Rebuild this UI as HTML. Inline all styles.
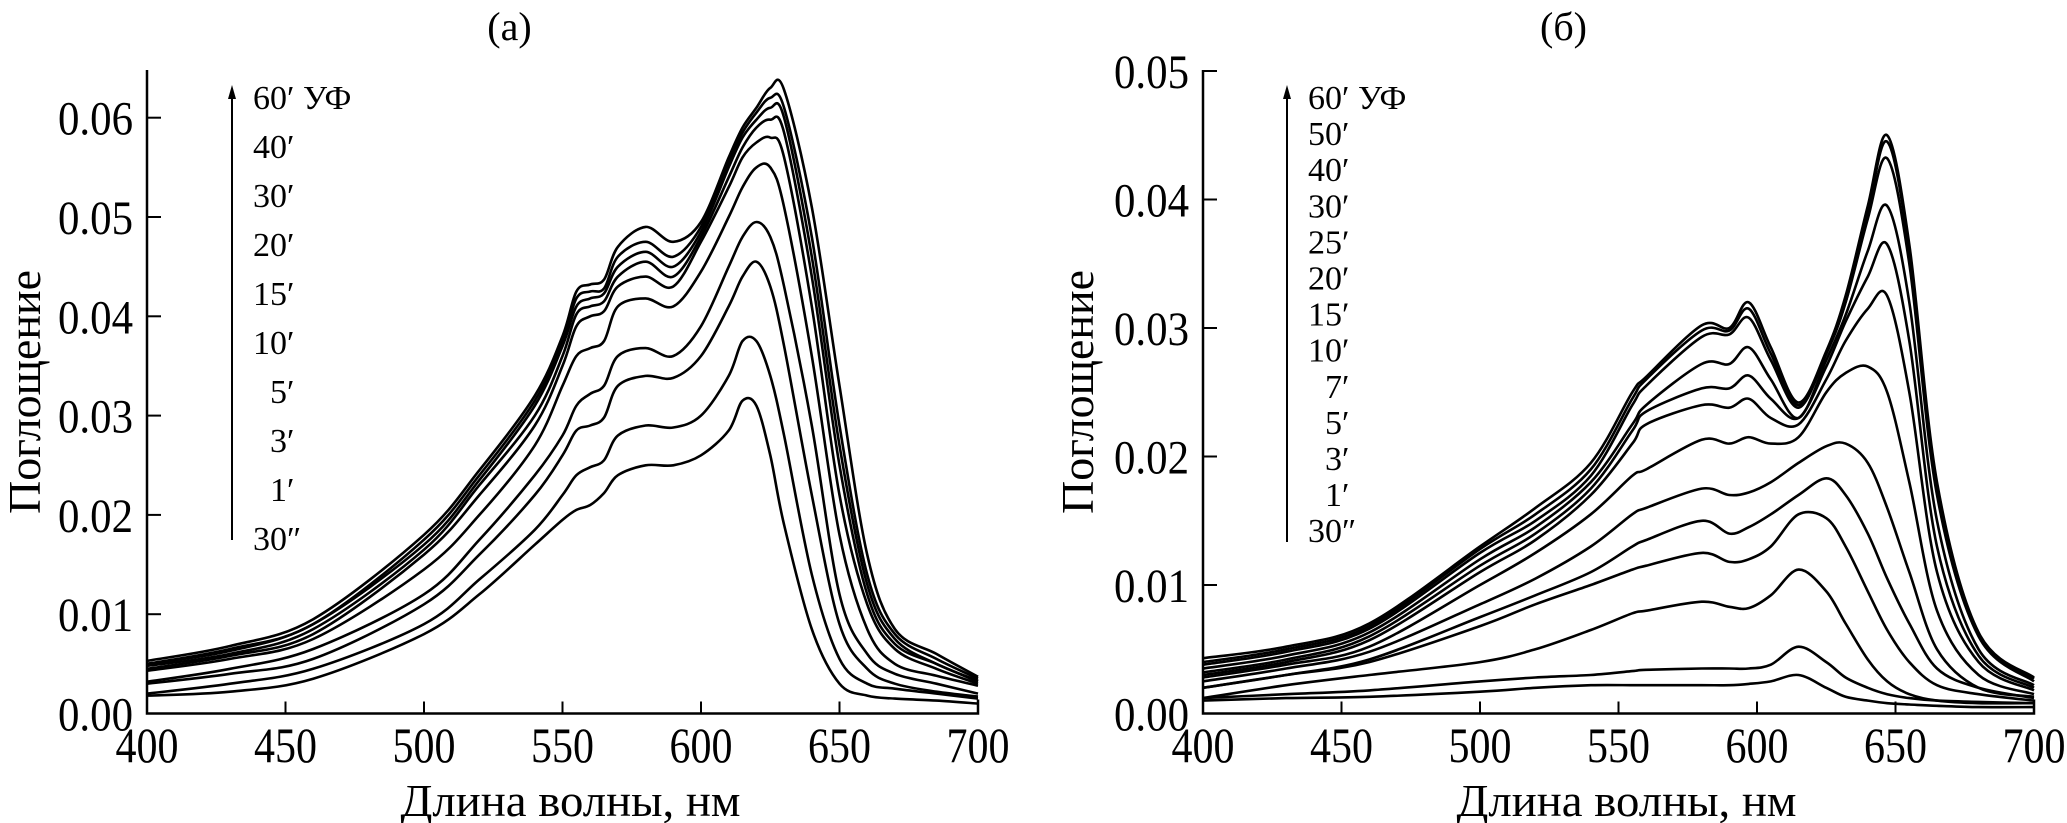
<!DOCTYPE html>
<html><head><meta charset="utf-8"><style>
html,body{margin:0;padding:0;background:#fff;}
svg{display:block;}
text{font-family:"Liberation Serif","DejaVu Serif",serif;fill:#000;}
</style></head><body>
<svg id="chart" width="2067" height="823" viewBox="0 0 2067 823" xmlns="http://www.w3.org/2000/svg"></svg>
<script>
// ---------- Panel (a) data ----------
const wlA = [400,430,460,500,520,540,550,555,560,565,570,580,590,600,610,615,620,625,630,640,650,660,670,685,700];
const labelsA = ["30″","1′","3′","5′","10′","15′","20′","30′","40′","60′ УФ"];
const a30s = [0.0018,0.0022,0.0035,0.008,0.012,0.017,0.0195,0.0205,0.021,0.0222,0.024,0.025,0.025,0.026,0.0285,0.0315,0.031,0.026,0.019,0.0085,0.003,0.0018,0.0015,0.0013,0.001];
const a1 = [0.002,0.003,0.0045,0.009,0.0135,0.0185,0.022,0.024,0.0248,0.0255,0.028,0.029,0.0288,0.030,0.034,0.0375,0.0375,0.034,0.028,0.014,0.0055,0.003,0.0025,0.002,0.0015];
const a3 = [0.003,0.004,0.0055,0.011,0.016,0.022,0.026,0.0285,0.029,0.0298,0.033,0.034,0.0338,0.036,0.041,0.044,0.0455,0.043,0.037,0.022,0.009,0.0045,0.003,0.0022,0.0017];
const a5 = [0.0032,0.0045,0.0065,0.012,0.0175,0.024,0.028,0.031,0.0322,0.033,0.036,0.0368,0.036,0.039,0.045,0.048,0.0495,0.048,0.043,0.029,0.012,0.006,0.004,0.003,0.002];
const a10 = [0.0043,0.0055,0.0075,0.0145,0.020,0.027,0.033,0.036,0.0368,0.0375,0.041,0.0418,0.041,0.0445,0.050,0.053,0.055,0.055,0.051,0.036,0.018,0.0085,0.005,0.0038,0.0028];
const a15 = [0.0045,0.0058,0.008,0.016,0.022,0.029,0.035,0.039,0.040,0.0405,0.043,0.044,0.043,0.0475,0.053,0.056,0.0575,0.058,0.056,0.041,0.022,0.011,0.0065,0.0045,0.003];
const a20 = [0.0048,0.006,0.0085,0.0165,0.023,0.030,0.036,0.0402,0.041,0.0415,0.044,0.0455,0.044,0.048,0.054,0.057,0.059,0.0598,0.0585,0.044,0.025,0.012,0.007,0.005,0.0032];
const a30 = [0.005,0.0063,0.009,0.017,0.0235,0.031,0.037,0.041,0.0418,0.0423,0.045,0.0465,0.045,0.0485,0.055,0.058,0.0598,0.061,0.060,0.046,0.027,0.013,0.0075,0.005,0.0033];
const a40 = [0.005,0.0065,0.009,0.0175,0.024,0.0315,0.0375,0.0418,0.0425,0.0428,0.046,0.0475,0.046,0.049,0.0555,0.0585,0.0605,0.062,0.061,0.048,0.029,0.014,0.008,0.0055,0.0035];
const a60 = [0.0053,0.0068,0.0095,0.018,0.0245,0.032,0.038,0.0425,0.0432,0.0437,0.047,0.049,0.0475,0.0495,0.056,0.059,0.061,0.063,0.0628,0.051,0.033,0.016,0.0085,0.006,0.0037];
const seriesA = [a30s,a1,a3,a5,a10,a15,a20,a30,a40,a60];
const yTicksA = [0.00,0.01,0.02,0.03,0.04,0.05,0.06];

// ---------- Panel (б) data ----------
const wlB = [400,430,460,500,520,540,555,560,580,590,597,605,615,625,632,640,647,655,665,680,700];
const labelsB = ["30″","1′","3′","5′","7′","10′","15′","20′","25′","30′","40′","50′","60′ УФ"];
const b30s = [0.001,0.0012,0.0013,0.0017,0.002,0.0022,0.0022,0.0022,0.0022,0.0022,0.0023,0.0025,0.003,0.002,0.0013,0.001,0.0008,0.0007,0.0006,0.0005,0.0005];
const b1 = [0.0012,0.0015,0.0018,0.0025,0.0028,0.003,0.0033,0.0034,0.0035,0.0035,0.0035,0.0038,0.0052,0.004,0.0028,0.002,0.0015,0.0012,0.001,0.0009,0.0008];
const b3 = [0.0012,0.0022,0.003,0.004,0.005,0.0065,0.0078,0.008,0.0087,0.0083,0.0082,0.0092,0.0112,0.0095,0.007,0.0042,0.0025,0.0015,0.001,0.0008,0.0008];
const b5 = [0.002,0.003,0.004,0.0068,0.0085,0.010,0.0112,0.0115,0.0125,0.0118,0.012,0.013,0.0155,0.0152,0.013,0.0095,0.0065,0.004,0.0022,0.0015,0.001];
const b7 = [0.002,0.003,0.0042,0.0075,0.0092,0.011,0.013,0.0135,0.015,0.014,0.0145,0.0155,0.017,0.0183,0.017,0.014,0.0105,0.007,0.0035,0.002,0.0012];
const b10 = [0.0025,0.0035,0.0048,0.0085,0.0105,0.013,0.0155,0.016,0.0175,0.017,0.0172,0.018,0.0195,0.0208,0.021,0.0195,0.016,0.011,0.005,0.002,0.0013];
const b15 = [0.0028,0.0038,0.0052,0.010,0.0125,0.0155,0.0185,0.019,0.0213,0.021,0.0215,0.021,0.0215,0.025,0.0265,0.027,0.025,0.018,0.008,0.003,0.0015];
const b20 = [0.003,0.004,0.0057,0.011,0.0135,0.017,0.021,0.0225,0.024,0.0238,0.0245,0.023,0.0225,0.026,0.029,0.0315,0.0325,0.025,0.011,0.004,0.0018];
const b25 = [0.0032,0.0042,0.006,0.0115,0.014,0.0175,0.022,0.0235,0.0253,0.0253,0.0263,0.0245,0.023,0.027,0.0305,0.034,0.0365,0.029,0.013,0.0045,0.002];
const b30 = [0.0035,0.0045,0.0063,0.012,0.0145,0.018,0.0225,0.024,0.0272,0.0272,0.0285,0.026,0.023,0.0275,0.031,0.036,0.0395,0.032,0.015,0.005,0.0022];
const b40 = [0.0038,0.0048,0.0066,0.0125,0.015,0.0185,0.024,0.0255,0.0293,0.0295,0.0308,0.0275,0.0238,0.028,0.032,0.0385,0.0432,0.035,0.017,0.006,0.0025];
const b50 = [0.004,0.005,0.0068,0.0128,0.0155,0.019,0.0245,0.026,0.0298,0.0298,0.0315,0.028,0.024,0.028,0.032,0.039,0.0445,0.036,0.0175,0.0062,0.0027];
const b60 = [0.0043,0.0052,0.007,0.013,0.016,0.0195,0.025,0.0262,0.0302,0.030,0.032,0.0285,0.0242,0.0282,0.0325,0.0395,0.045,0.0365,0.018,0.0063,0.0028];
const seriesB = [b30s,b1,b3,b5,b7,b10,b15,b20,b25,b30,b40,b50,b60];
const yTicksB = [0.00,0.01,0.02,0.03,0.04,0.05];

const xTicks = [400,450,500,550,600,650,700];

const NS = "http://www.w3.org/2000/svg";
const svg = document.getElementById('chart');
function mk(tag, attrs, parent) {
  const e = document.createElementNS(NS, tag);
  for (const k in attrs) e.setAttribute(k, attrs[k]);
  (parent || svg).appendChild(e);
  return e;
}
function smoothPath(pts) {
  let d = "M" + pts[0][0].toFixed(1) + "," + pts[0][1].toFixed(1);
  for (let i = 0; i < pts.length - 1; i++) {
    const p0 = pts[Math.max(0, i - 1)], p1 = pts[i], p2 = pts[i + 1], p3 = pts[Math.min(pts.length - 1, i + 2)];
    const c1x = p1[0] + (p2[0] - p0[0]) / 6, c1y = p1[1] + (p2[1] - p0[1]) / 6;
    const c2x = p2[0] - (p3[0] - p1[0]) / 6, c2y = p2[1] - (p3[1] - p1[1]) / 6;
    d += " C" + c1x.toFixed(1) + "," + c1y.toFixed(1) + " " + c2x.toFixed(1) + "," + c2y.toFixed(1) + " " + p2[0].toFixed(1) + "," + p2[1].toFixed(1);
  }
  return d;
}

function panel(cfg) {
  const g = mk('g', {});
  
  
  const xS = v => cfg.x0 + (v - 400) / 300 * (cfg.x1 - cfg.x0);
  const yS = v => cfg.y0 - v / 0.01 * cfg.yUnit;

  const t = mk('text', {x: (cfg.x0 + cfg.x1) / 2 + cfg.titleDx, y: 40, 'font-size': 40, 'text-anchor': 'middle'}, g);
  t.textContent = cfg.title;
  
  

  const ax = mk('path', {d: `M${cfg.x0},${cfg.yTop} V${cfg.y0} H${cfg.x1} V${cfg.y0 - 14}`, stroke: '#000', 'stroke-width': 2.5, fill: 'none'}, g);
  
  

  xTicks.forEach(v => {
    const x = xS(v);
    if (v > 400 && v < 700) {
      const tk = mk('line', {x1: x, x2: x, y1: cfg.y0, y2: cfg.y0 - 12, stroke: '#000', 'stroke-width': 2}, g);
      
      
    }
    const lb = mk('text', {x: x, y: 762, 'font-size': 50, 'text-anchor': 'middle', textLength: 63, lengthAdjust: 'spacingAndGlyphs'}, g);
    lb.textContent = v;
    
    
  });
  cfg.yTicks.forEach(v => {
    const y = yS(v);
    if (v > 0) {
      const tk = mk('line', {x1: cfg.x0, x2: cfg.x0 + 14, y1: y, y2: y, stroke: '#000', 'stroke-width': 2}, g);
      
      
    }
    const lb = mk('text', {x: cfg.x0 - 14, y: y + 17, 'font-size': 48, 'text-anchor': 'end', textLength: 75, lengthAdjust: 'spacingAndGlyphs'}, g);
    lb.textContent = v.toFixed(2);
    
    
  });

  const xt = mk('text', {x: (cfg.x0 + cfg.x1) / 2 + cfg.xtDx, y: 816, 'font-size': 46, 'text-anchor': 'middle', textLength: 340, lengthAdjust: 'spacingAndGlyphs'}, g);
  xt.textContent = 'Длина волны, нм';
  
  
  const yt = mk('text', {x: 0, y: 0, 'font-size': 46, 'text-anchor': 'middle', textLength: 244, lengthAdjust: 'spacingAndGlyphs', transform: `translate(${cfg.ytX},392) rotate(-90)`}, g);
  yt.textContent = 'Поглощение';
  
  

  cfg.series.forEach((vals, i) => {
    const pts = vals.map((v, j) => [xS(cfg.wl[j]), yS(v)]);
    const p = mk('path', {d: smoothPath(pts), stroke: '#000', 'stroke-width': 2.6, fill: 'none', 'stroke-linejoin': 'round'}, g);
    
    
  });

  const ar = mk('line', {x1: cfg.arX, x2: cfg.arX, y1: cfg.arBottom, y2: cfg.arTop + 10, stroke: '#000', 'stroke-width': 2}, g);
  
  
  const ah = mk('path', {d: `M${cfg.arX - 4},${cfg.arTop + 14} L${cfg.arX},${cfg.arTop} L${cfg.arX + 4},${cfg.arTop + 14} Z`, fill: '#000'}, g);
  
  
  const n = cfg.labels.length;
  cfg.labels.forEach((lab, i) => {
    const yc = cfg.legTop + (n - 1 - i) * cfg.legStep;
    const short = lab.replace(' УФ', '');
    const pad = short.length < 3 ? 1 : 0;
    const tx = mk('text', {x: cfg.legX + pad * 17, y: yc + 12, 'font-size': 34}, g);
    tx.textContent = lab;
    
    
  });
}

panel({name: 'panel-a', title: '(a)', titleDx: -53, x0: 147, x1: 978, y0: 713.5, yUnit: 99.3, yTop: 70,
  yTicks: yTicksA, wl: wlA, series: seriesA, labels: labelsA, xtDx: 8, ytX: 40,
  arX: 232, arTop: 85, arBottom: 540, legX: 253, legTop: 97, legStep: 49});
panel({name: 'panel-b', title: '(б)', titleDx: -55, x0: 1203, x1: 2034, y0: 713.5, yUnit: 128.5, yTop: 70,
  yTicks: yTicksB, wl: wlB, series: seriesB, labels: labelsB, xtDx: 8, ytX: 1093,
  arX: 1287, arTop: 85, arBottom: 542, legX: 1308, legTop: 97, legStep: 36.1});
</script>
</body></html>
